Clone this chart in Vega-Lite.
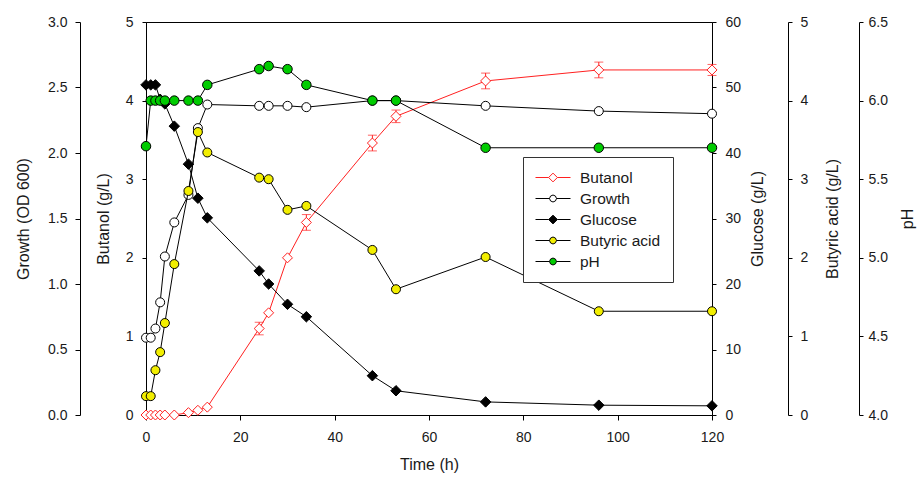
{
  "$schema": "https://vega.github.io/schema/vega-lite/v6.json",
  "width": 566,
  "height": 393,
  "autosize": {"type": "none"},
  "padding": {"left": 146, "top": 22, "right": 205, "bottom": 69},
  "background": "white",
  "config": {
    "view": {"stroke": "#000", "strokeWidth": 1},
    "font": "Liberation Sans",
    "axis": {
      "grid": false, "domainColor": "#000", "tickColor": "#000",
      "labelColor": "#1a1a1a", "titleColor": "#1a1a1a",
      "labelFont": "Liberation Sans", "titleFont": "Liberation Sans",
      "labelFontSize": 14, "titleFontSize": 16, "titleFontWeight": "normal",
      "tickSize": 4, "domainWidth": 1, "labelFlush": false
    },
    "legend": {
      "orient": "none", "legendX": 377, "legendY": 135,
      "strokeColor": "#333", "fillColor": "white", "padding": 12,
      "symbolSize": 1225, "symbolStrokeWidth": 1, "symbolOpacity": 1,
      "clipHeight": 17, "rowPadding": 4,
      "labelFont": "Liberation Sans", "labelFontSize": 15.5, "labelColor": "#1a1a1a",
      "labelOffset": 9, "title": null
    }
  },
  "data": {
    "values": [
      {"series": "Butanol", "t": 0, "v": 0, "err": 0},
      {"series": "Butanol", "t": 1, "v": 0, "err": 0},
      {"series": "Butanol", "t": 2, "v": 0, "err": 0},
      {"series": "Butanol", "t": 3, "v": 0, "err": 0},
      {"series": "Butanol", "t": 4, "v": 0, "err": 0},
      {"series": "Butanol", "t": 6, "v": 0, "err": 0},
      {"series": "Butanol", "t": 9, "v": 0.03, "err": 0},
      {"series": "Butanol", "t": 11, "v": 0.06, "err": 0},
      {"series": "Butanol", "t": 13, "v": 0.1, "err": 0},
      {"series": "Butanol", "t": 24, "v": 1.1, "err": 0.08},
      {"series": "Butanol", "t": 26, "v": 1.3, "err": 0},
      {"series": "Butanol", "t": 30, "v": 2.0, "err": 0},
      {"series": "Butanol", "t": 34, "v": 2.45, "err": 0.1},
      {"series": "Butanol", "t": 48, "v": 3.46, "err": 0.1},
      {"series": "Butanol", "t": 53, "v": 3.8, "err": 0.08},
      {"series": "Butanol", "t": 72, "v": 4.25, "err": 0.1},
      {"series": "Butanol", "t": 96, "v": 4.39, "err": 0.1},
      {"series": "Butanol", "t": 120, "v": 4.39, "err": 0.07},
      {"series": "Growth", "t": 0, "v": 0.59, "err": 0},
      {"series": "Growth", "t": 1, "v": 0.59, "err": 0},
      {"series": "Growth", "t": 2, "v": 0.66, "err": 0},
      {"series": "Growth", "t": 3, "v": 0.86, "err": 0},
      {"series": "Growth", "t": 4, "v": 1.21, "err": 0},
      {"series": "Growth", "t": 6, "v": 1.47, "err": 0},
      {"series": "Growth", "t": 9, "v": 1.68, "err": 0},
      {"series": "Growth", "t": 11, "v": 2.19, "err": 0},
      {"series": "Growth", "t": 13, "v": 2.37, "err": 0},
      {"series": "Growth", "t": 24, "v": 2.36, "err": 0},
      {"series": "Growth", "t": 26, "v": 2.36, "err": 0},
      {"series": "Growth", "t": 30, "v": 2.36, "err": 0},
      {"series": "Growth", "t": 34, "v": 2.35, "err": 0},
      {"series": "Growth", "t": 48, "v": 2.4, "err": 0},
      {"series": "Growth", "t": 53, "v": 2.4, "err": 0},
      {"series": "Growth", "t": 72, "v": 2.36, "err": 0},
      {"series": "Growth", "t": 96, "v": 2.32, "err": 0},
      {"series": "Growth", "t": 120, "v": 2.3, "err": 0},
      {"series": "Glucose", "t": 0, "v": 50.4, "err": 0},
      {"series": "Glucose", "t": 1, "v": 50.4, "err": 0},
      {"series": "Glucose", "t": 2, "v": 50.4, "err": 0},
      {"series": "Glucose", "t": 3, "v": 48.2, "err": 0},
      {"series": "Glucose", "t": 4, "v": 47.5, "err": 0},
      {"series": "Glucose", "t": 6, "v": 44.1, "err": 0},
      {"series": "Glucose", "t": 9, "v": 38.3, "err": 0},
      {"series": "Glucose", "t": 11, "v": 33.1, "err": 0},
      {"series": "Glucose", "t": 13, "v": 30.1, "err": 0},
      {"series": "Glucose", "t": 24, "v": 22.0, "err": 0},
      {"series": "Glucose", "t": 26, "v": 20.0, "err": 0},
      {"series": "Glucose", "t": 30, "v": 16.9, "err": 0},
      {"series": "Glucose", "t": 34, "v": 15.0, "err": 0},
      {"series": "Glucose", "t": 48, "v": 6.0, "err": 0},
      {"series": "Glucose", "t": 53, "v": 3.7, "err": 0},
      {"series": "Glucose", "t": 72, "v": 2.0, "err": 0},
      {"series": "Glucose", "t": 96, "v": 1.5, "err": 0},
      {"series": "Glucose", "t": 120, "v": 1.4, "err": 0},
      {"series": "Butyric acid", "t": 0, "v": 0.24, "err": 0},
      {"series": "Butyric acid", "t": 1, "v": 0.24, "err": 0},
      {"series": "Butyric acid", "t": 2, "v": 0.57, "err": 0},
      {"series": "Butyric acid", "t": 3, "v": 0.8, "err": 0},
      {"series": "Butyric acid", "t": 4, "v": 1.17, "err": 0},
      {"series": "Butyric acid", "t": 6, "v": 1.92, "err": 0},
      {"series": "Butyric acid", "t": 9, "v": 2.85, "err": 0},
      {"series": "Butyric acid", "t": 11, "v": 3.6, "err": 0},
      {"series": "Butyric acid", "t": 13, "v": 3.34, "err": 0},
      {"series": "Butyric acid", "t": 24, "v": 3.02, "err": 0},
      {"series": "Butyric acid", "t": 26, "v": 3.0, "err": 0},
      {"series": "Butyric acid", "t": 30, "v": 2.61, "err": 0},
      {"series": "Butyric acid", "t": 34, "v": 2.66, "err": 0},
      {"series": "Butyric acid", "t": 48, "v": 2.1, "err": 0},
      {"series": "Butyric acid", "t": 53, "v": 1.6, "err": 0},
      {"series": "Butyric acid", "t": 72, "v": 2.01, "err": 0},
      {"series": "Butyric acid", "t": 96, "v": 1.32, "err": 0},
      {"series": "Butyric acid", "t": 120, "v": 1.32, "err": 0},
      {"series": "pH", "t": 0, "v": 5.71, "err": 0},
      {"series": "pH", "t": 1, "v": 6.0, "err": 0},
      {"series": "pH", "t": 2, "v": 6.0, "err": 0},
      {"series": "pH", "t": 3, "v": 6.0, "err": 0},
      {"series": "pH", "t": 4, "v": 6.0, "err": 0},
      {"series": "pH", "t": 6, "v": 6.0, "err": 0},
      {"series": "pH", "t": 9, "v": 6.0, "err": 0},
      {"series": "pH", "t": 11, "v": 6.0, "err": 0},
      {"series": "pH", "t": 13, "v": 6.1, "err": 0},
      {"series": "pH", "t": 24, "v": 6.2, "err": 0},
      {"series": "pH", "t": 26, "v": 6.22, "err": 0},
      {"series": "pH", "t": 30, "v": 6.2, "err": 0},
      {"series": "pH", "t": 34, "v": 6.1, "err": 0},
      {"series": "pH", "t": 48, "v": 6.0, "err": 0},
      {"series": "pH", "t": 53, "v": 6.0, "err": 0},
      {"series": "pH", "t": 72, "v": 5.7, "err": 0},
      {"series": "pH", "t": 96, "v": 5.7, "err": 0},
      {"series": "pH", "t": 120, "v": 5.7, "err": 0}
    ]
  },
  "layer": [
    {
      "transform": [{"filter": "datum.series === 'Butanol'"}],
      "layer": [
        {
          "mark": {"type": "line", "color": "#ff2020", "strokeWidth": 1},
          "encoding": {
            "x": {"field": "t", "type": "quantitative", "scale": {"domain": [0, 120], "nice": false},
              "axis": {"title": "Time (h)", "values": [0, 20, 40, 60, 80, 100, 120], "format": "d", "tickSize": 5, "labelPadding": 10, "titlePadding": 12, "labelFlush": false}},
            "y": {"field": "v", "type": "quantitative", "scale": {"domain": [0, 5], "nice": false},
              "axis": {"orient": "left", "title": "Butanol (g/L)", "values": [0, 1, 2, 3, 4, 5], "format": "d", "tickSize": 4, "labelPadding": 9, "titlePadding": 14}}
          }
        },
        {
          "transform": [{"filter": "datum.err > 0"}],
          "mark": {"type": "errorbar", "color": "#ff2020", "ticks": {"size": 9, "color": "#ff2020"}},
          "encoding": {
            "x": {"field": "t", "type": "quantitative"},
            "y": {"field": "v", "type": "quantitative", "title": "Butanol (g/L)"},
            "yError": {"field": "err"}
          }
        },
        {
          "mark": {"type": "point", "shape": "diamond", "filled": true, "fill": "white", "stroke": "#ff2020", "strokeWidth": 1, "size": 100, "opacity": 1},
          "encoding": {
            "x": {"field": "t", "type": "quantitative"},
            "y": {"field": "v", "type": "quantitative"}
          }
        }
      ]
    },
    {
      "transform": [{"filter": "datum.series === 'Growth'"}],
      "layer": [
        {
          "mark": {"type": "line", "color": "#000", "strokeWidth": 1},
          "encoding": {
            "x": {"field": "t", "type": "quantitative"},
            "y": {"field": "v", "type": "quantitative", "scale": {"domain": [0, 3], "nice": false},
              "axis": {"orient": "left", "offset": 66, "title": "Growth (OD 600)", "values": [0, 0.5, 1, 1.5, 2, 2.5, 3], "format": ".1f", "tickSize": 5, "labelPadding": 8, "titlePadding": 16}}
          }
        },
        {
          "mark": {"type": "point", "shape": "circle", "filled": true, "fill": "white", "stroke": "#000", "strokeWidth": 1, "size": 81, "opacity": 1},
          "encoding": {
            "x": {"field": "t", "type": "quantitative"},
            "y": {"field": "v", "type": "quantitative"}
          }
        }
      ]
    },
    {
      "transform": [{"filter": "datum.series === 'Glucose'"}],
      "layer": [
        {
          "mark": {"type": "line", "color": "#000", "strokeWidth": 1},
          "encoding": {
            "x": {"field": "t", "type": "quantitative"},
            "y": {"field": "v", "type": "quantitative", "scale": {"domain": [0, 60], "nice": false},
              "axis": {"orient": "right", "title": "Glucose (g/L)", "values": [0, 10, 20, 30, 40, 50, 60], "format": "d", "tickSize": 4, "labelPadding": 9, "titlePadding": 9, "titleAngle": -90, "titleBaseline": "top"}}
          }
        },
        {
          "mark": {"type": "point", "shape": "diamond", "filled": true, "fill": "#000", "stroke": "#000", "strokeWidth": 1, "size": 110, "opacity": 1},
          "encoding": {
            "x": {"field": "t", "type": "quantitative"},
            "y": {"field": "v", "type": "quantitative"}
          }
        }
      ]
    },
    {
      "transform": [{"filter": "datum.series === 'Butyric acid'"}],
      "layer": [
        {
          "mark": {"type": "line", "color": "#000", "strokeWidth": 1},
          "encoding": {
            "x": {"field": "t", "type": "quantitative"},
            "y": {"field": "v", "type": "quantitative", "scale": {"domain": [0, 5], "nice": false},
              "axis": {"orient": "right", "offset": 76, "title": "Butyric acid (g/L)", "values": [0, 1, 2, 3, 4, 5], "format": "d", "tickSize": 4, "labelPadding": 8, "titlePadding": 17, "titleAngle": -90, "titleBaseline": "top"}}
          }
        },
        {
          "mark": {"type": "point", "shape": "circle", "filled": true, "fill": "#f2ee00", "stroke": "#000", "strokeWidth": 1, "size": 81, "opacity": 1},
          "encoding": {
            "x": {"field": "t", "type": "quantitative"},
            "y": {"field": "v", "type": "quantitative"}
          }
        }
      ]
    },
    {
      "transform": [{"filter": "datum.series === 'pH'"}],
      "layer": [
        {
          "mark": {"type": "line", "color": "#000", "strokeWidth": 1},
          "encoding": {
            "x": {"field": "t", "type": "quantitative"},
            "y": {"field": "v", "type": "quantitative", "scale": {"domain": [4, 6.5], "nice": false, "zero": false},
              "axis": {"orient": "right", "offset": 147, "title": "pH", "values": [4, 4.5, 5, 5.5, 6, 6.5], "format": ".1f", "tickSize": 4, "labelPadding": 5, "titlePadding": 12, "titleAngle": -90, "titleBaseline": "top"}}
          }
        },
        {
          "mark": {"type": "point", "shape": "circle", "filled": true, "fill": "#00cc00", "stroke": "#000", "strokeWidth": 1, "size": 90, "opacity": 1},
          "encoding": {
            "x": {"field": "t", "type": "quantitative"},
            "y": {"field": "v", "type": "quantitative"}
          }
        }
      ]
    },
    {
      "mark": {"type": "point", "filled": true, "opacity": 0},
      "encoding": {
        "x": {"field": "t", "type": "quantitative"},
        "shape": {"field": "series", "type": "nominal",
          "scale": {"domain": ["Butanol", "Growth", "Glucose", "Butyric acid", "pH"],
            "range": [
              "M-1,0H-0.25M0.25,0H1M0,-0.25L0.25,0L0,0.25L-0.25,0Z",
              "M-1,0H-0.2M0.2,0H1M0.2,0L0.14,0.14L0,0.2L-0.14,0.14L-0.2,0L-0.14,-0.14L0,-0.2L0.14,-0.14Z",
              "M-1,0H-0.25M0.25,0H1M0,-0.25L0.25,0L0,0.25L-0.25,0Z",
              "M-1,0H-0.2M0.2,0H1M0.2,0L0.14,0.14L0,0.2L-0.14,0.14L-0.2,0L-0.14,-0.14L0,-0.2L0.14,-0.14Z",
              "M-1,0H-0.2M0.2,0H1M0.2,0L0.14,0.14L0,0.2L-0.14,0.14L-0.2,0L-0.14,-0.14L0,-0.2L0.14,-0.14Z"
            ]},
          "legend": {"title": null}},
        "fill": {"field": "series", "type": "nominal",
          "scale": {"domain": ["Butanol", "Growth", "Glucose", "Butyric acid", "pH"],
            "range": ["white", "white", "#000", "#f2ee00", "#00cc00"]},
          "legend": {"title": null}},
        "stroke": {"field": "series", "type": "nominal",
          "scale": {"domain": ["Butanol", "Growth", "Glucose", "Butyric acid", "pH"],
            "range": ["#ff2020", "#000", "#000", "#000", "#000"]},
          "legend": {"title": null}}
      }
    }
  ],
  "resolve": {"scale": {"y": "independent"}}
}
